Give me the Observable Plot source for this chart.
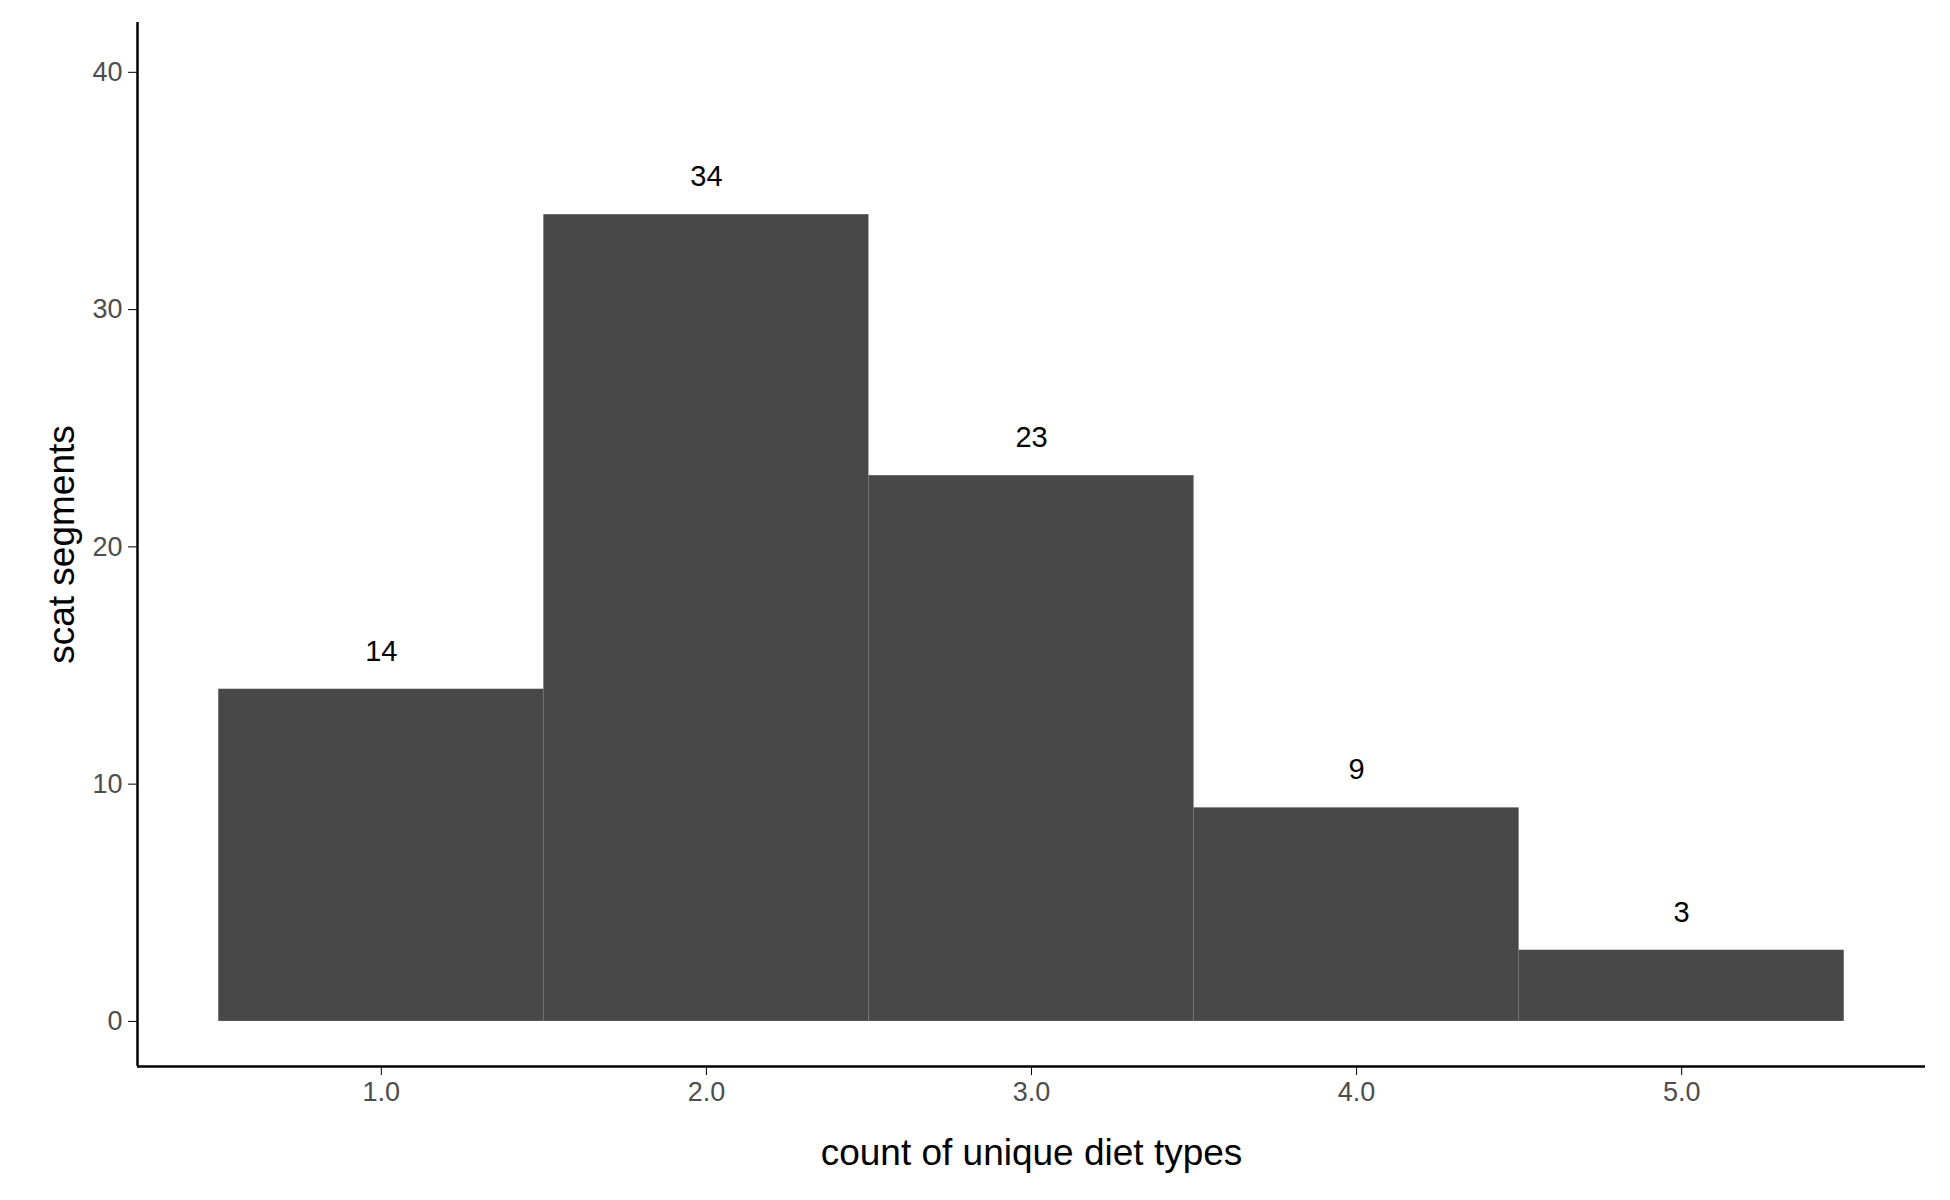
<!DOCTYPE html>
<html>
<head>
<meta charset="utf-8">
<script src="https://cdn.jsdelivr.net/npm/d3@7"></script>
<script src="https://cdn.jsdelivr.net/npm/@observablehq/plot@0.6"></script>
<style>
  body { margin: 0; background: #fff; }
  svg { font-family: "Liberation Sans", Arial, sans-serif; }
</style>
</head>
<body>
<div id="chart"></div>
<script>
const dietTypes = [1, 2, 3, 4, 5];
const segments = [14, 34, 23, 9, 3];
const yTicks = [0, 10, 20, 30, 40];

const bars = dietTypes.map((k, i) => ({k, n: segments[i]}));

const chart = Plot.plot({
  width: 1950,
  height: 1200,
  marginLeft: 137,
  marginRight: 25,
  marginTop: 22,
  marginBottom: 134,
  style: {fontFamily: "Liberation Sans, Arial, sans-serif", background: "#fff"},
  x: {domain: [0.25, 5.75]},
  y: {domain: [-1.9, 42.1]},
  marks: [
    Plot.rect(bars, {x1: d => d.k - 0.5, x2: d => d.k + 0.5, y1: 0, y2: "n", fill: "#484848"}),
    Plot.text(bars, {x: "k", y: d => d.n + 1.6, text: d => String(d.n), fontSize: 29, fill: "#000"}),
    Plot.axisX({ticks: dietTypes, tickSize: 9, fontSize: 27, color: "#4d4d4d", stroke: "#000",
      tickPadding: 6, label: "count of unique diet types", labelAnchor: "center", labelArrow: "none", labelOffset: 98}),
    Plot.axisY({ticks: yTicks, tickSize: 9, fontSize: 27, color: "#4d4d4d", stroke: "#000",
      tickPadding: 6, label: "scat segments", labelAnchor: "center", labelArrow: "none", labelOffset: 90}),
    Plot.ruleY([-1.9], {stroke: "#000", strokeWidth: 2.5}),
    Plot.ruleX([0.25], {stroke: "#000", strokeWidth: 2.5})
  ]
});

d3.select(chart).selectAll("[aria-label='x-axis label'] text, [aria-label='y-axis label'] text")
  .style("font-size", "37px").attr("fill", "#000");
d3.select("#chart").append(() => chart);
</script>
</body>
</html>
